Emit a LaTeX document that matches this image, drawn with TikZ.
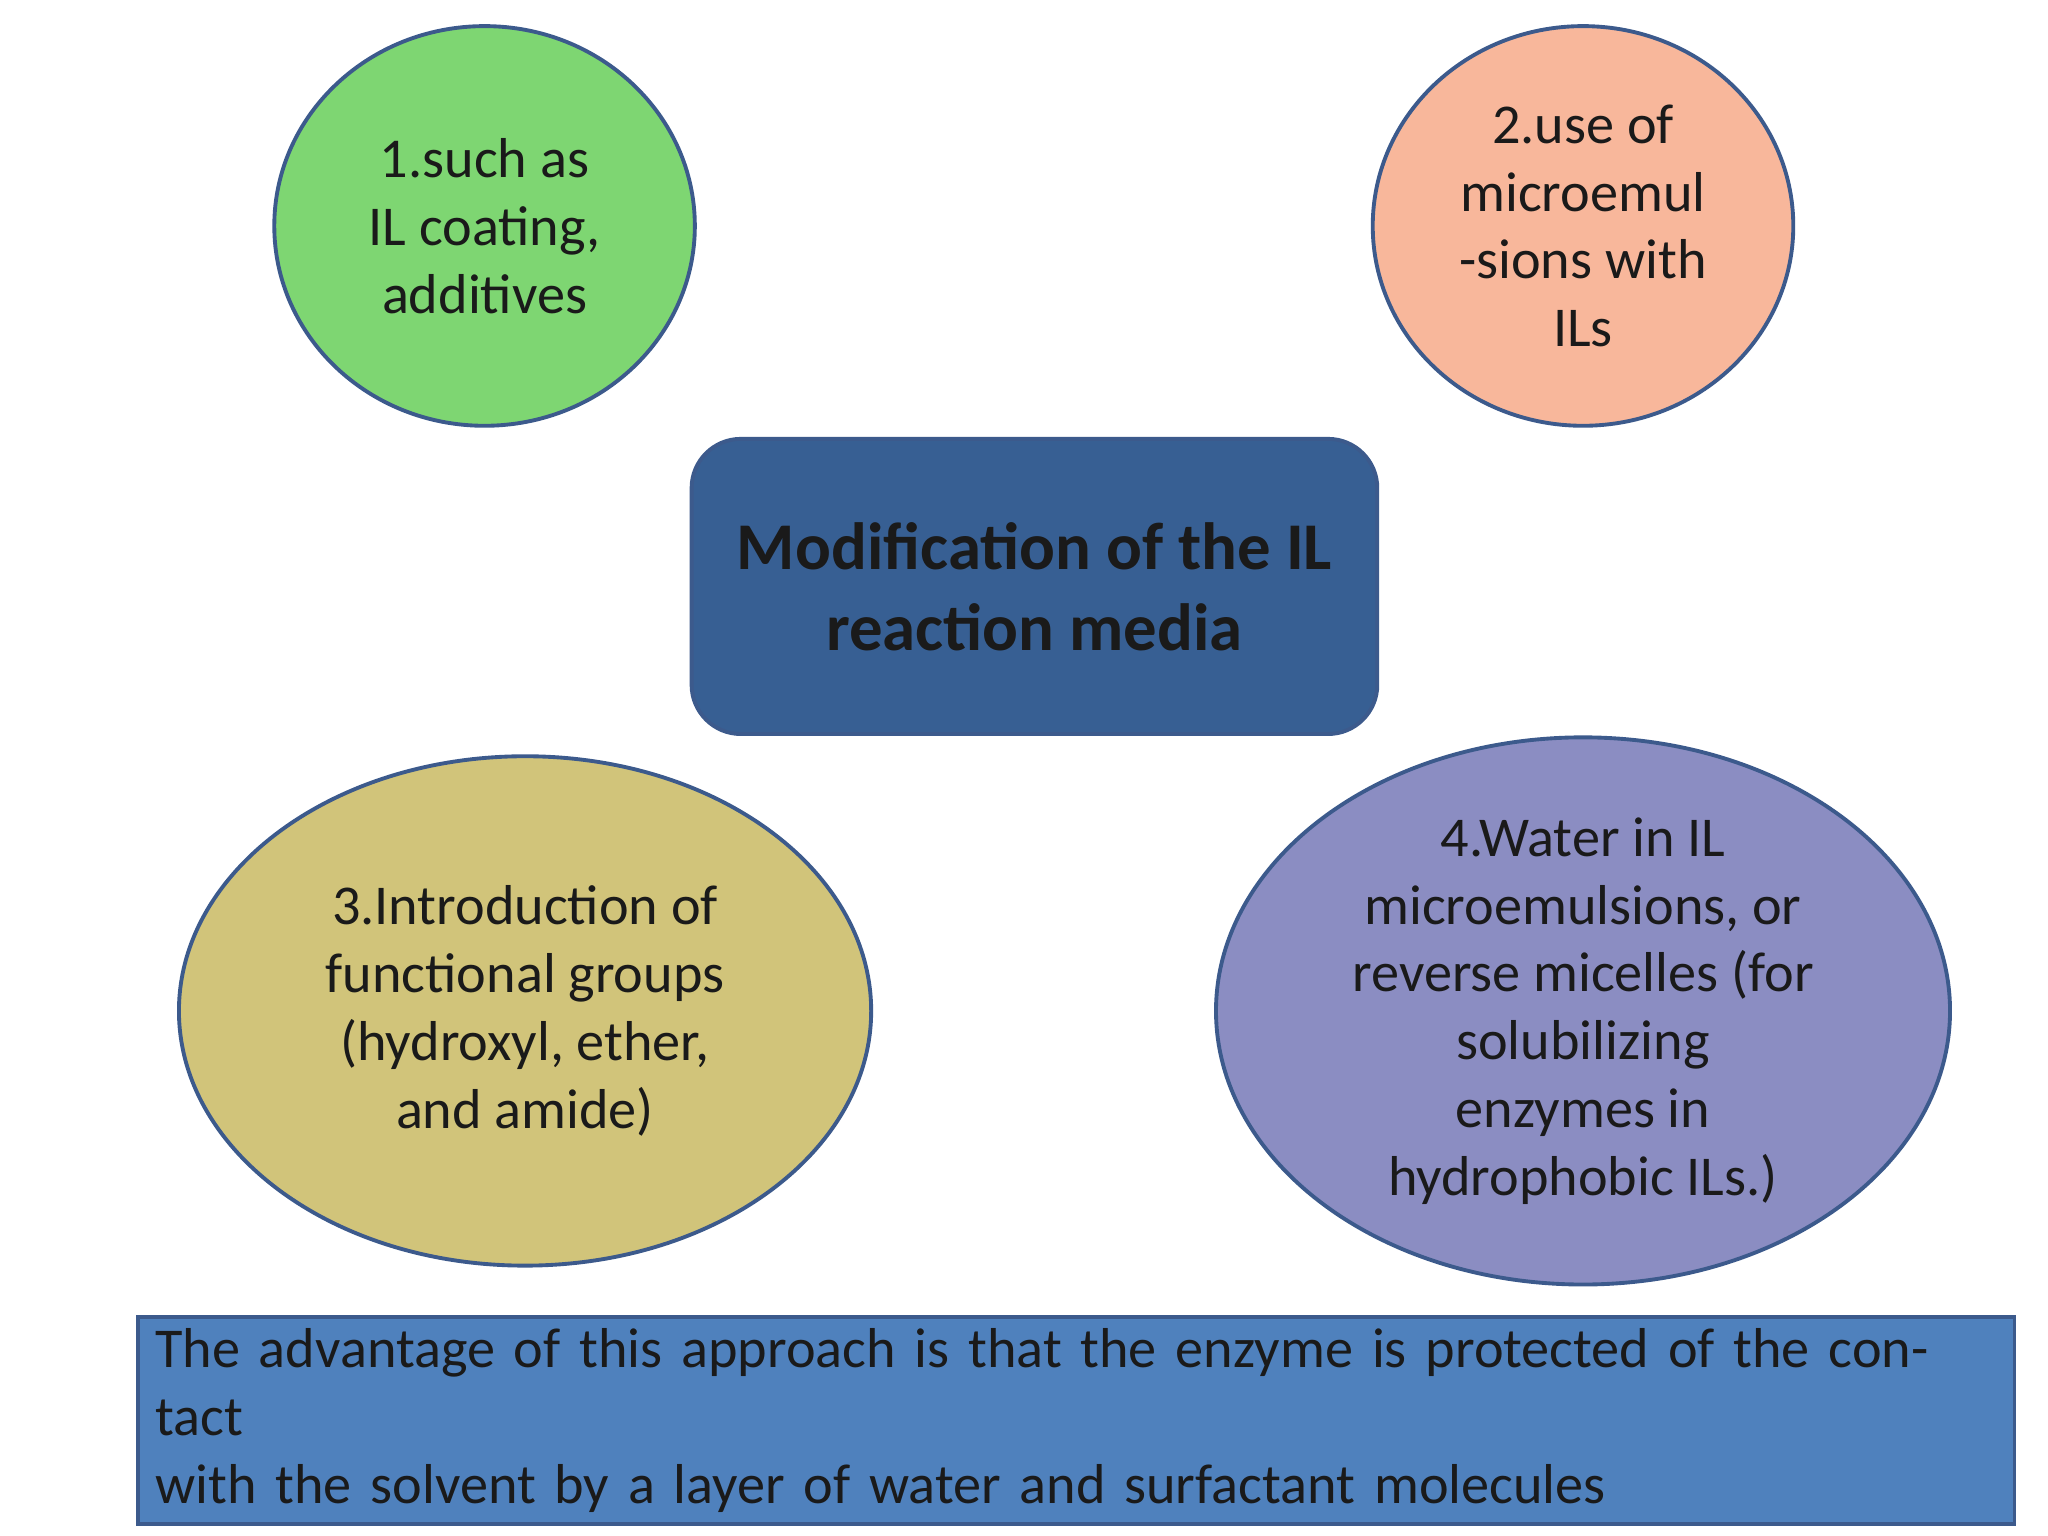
\documentclass[tikz,border=0pt]{standalone}
\usepackage{fontspec}
\setmainfont{Carlito}
\usepackage{xcolor}
\usetikzlibrary{shapes.geometric}
\definecolor{edgecolor}{RGB}{60,90,140}
\definecolor{greenfill}{RGB}{126,214,114}
\definecolor{salmonfill}{RGB}{248,183,155}
\definecolor{olivefill}{RGB}{209,196,122}
\definecolor{purplefill}{RGB}{139,141,194}
\definecolor{titlefill}{RGB}{55,95,147}
\definecolor{notefill}{RGB}{79,129,189}
\definecolor{textcolor}{RGB}{26,26,26}

\begin{document}
\begin{tikzpicture}[x=0.013061cm, y=-0.013061cm,
        idea/.style={ellipse, draw=edgecolor, line width=1.1pt, text=textcolor,
            font=\fontsize{16}{19.3}\selectfont, align=center, inner sep=0pt},
        title/.style={draw=edgecolor, line width=1.1pt, fill=titlefill, rounded corners=14pt,
            text=textcolor, font=\fontsize{19}{23}\selectfont\bfseries, align=center}]
        \useasboundingbox (0,0) rectangle (1568,1176);
        \fill[white] (0,0) rectangle (1568,1176);
        % centre box
        \node[title, minimum width=525*0.013061cm, minimum height=226*0.013061cm] (media) at (792,449)
            {Modification of the IL\\reaction media};
        % four ideas
        \node[idea, fill=greenfill, minimum width=322*0.013061cm, minimum height=306*0.013061cm] (coating) at (371,173)
            {1.such as\\IL coating,\\additives};
        \node[idea, fill=salmonfill, minimum width=322*0.013061cm, minimum height=306*0.013061cm] (microemul) at (1212,173)
            {2.use of\\microemul\\-sions with\\ILs};
        \node[idea, fill=olivefill, minimum width=530*0.013061cm, minimum height=390*0.013061cm] (groups) at (402,774)
            {3.Introduction of\\functional groups\\(hydroxyl, ether,\\and amide)};
        \node[idea, fill=purplefill, minimum width=562*0.013061cm, minimum height=390*0.013061cm] (water) at (1212,774)
            {4.Water in IL\\microemulsions, or\\reverse micelles (for\\solubilizing\\enzymes in\\hydrophobic ILs.)};
        % note at the bottom
        \node[draw=edgecolor, line width=1.1pt, fill=notefill, text=textcolor, anchor=north west,
            minimum width=1428*0.013061cm, minimum height=132*0.013061cm, inner xsep=5pt,
            font=\fontsize{16}{19.3}\selectfont, align=left, text width=1410*0.013061cm] (advantage) at (104,1007)
            {The advantage of this approach is that the enzyme is protected of the contact\\with the solvent by a layer of water and surfactant molecules};
\end{tikzpicture}
\end{document}
